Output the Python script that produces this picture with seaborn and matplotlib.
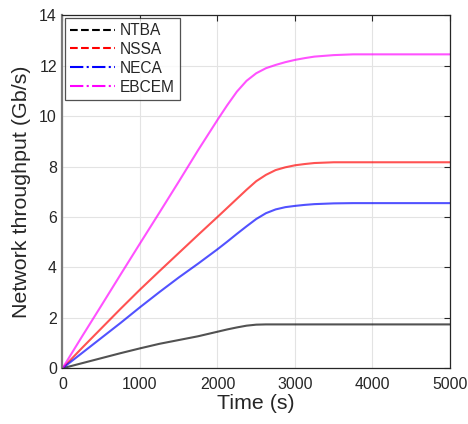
import seaborn as sns
import matplotlib.pyplot as plt
import pandas as pd
import numpy as np
from matplotlib.lines import Line2D

sns.set_style("white")
plt.rcParams['font.family'] = ['Liberation Sans', 'DejaVu Sans']

# values
time_s = [0, 250, 500, 750, 1000, 1250, 1500, 1750, 2000, 2125, 2250, 2375,
          2500, 2625, 2750, 2875, 3000, 3125, 3250, 3500, 3750, 4000, 4500, 5000]
ntba = [0, 0.20, 0.40, 0.60, 0.79, 0.97, 1.12, 1.27, 1.45, 1.54, 1.62, 1.69,
        1.73, 1.74, 1.74, 1.74, 1.74, 1.74, 1.74, 1.74, 1.74, 1.74, 1.74, 1.74]
nssa = [0, 0.80, 1.58, 2.36, 3.12, 3.85, 4.57, 5.29, 6.00, 6.36, 6.72, 7.08,
        7.42, 7.67, 7.86, 7.97, 8.05, 8.10, 8.14, 8.17, 8.17, 8.17, 8.17, 8.17]
neca = [0, 0.60, 1.20, 1.80, 2.42, 3.02, 3.60, 4.15, 4.72, 5.02, 5.33, 5.63,
        5.92, 6.15, 6.30, 6.39, 6.44, 6.48, 6.51, 6.54, 6.55, 6.55, 6.55, 6.55]
ebcem = [0, 1.25, 2.48, 3.72, 4.95, 6.17, 7.40, 8.65, 9.85, 10.43, 10.97, 11.40,
         11.70, 11.90, 12.03, 12.14, 12.23, 12.30, 12.36, 12.42, 12.45, 12.45,
         12.45, 12.45]

names = ['NTBA', 'NSSA', 'NECA', 'EBCEM']
colors = ['#000000', '#ff0000', '#0000ff', '#ff00ff']
styles = ['--', '--', '-.', '-.']

df = pd.DataFrame({'t': time_s * 4,
                   'v': ntba + nssa + neca + ebcem,
                   'method': np.repeat(names, len(time_s))})

fig, ax = plt.subplots(figsize=(4.68, 4.24), dpi=100)
fig.subplots_adjust(left=0.1335, right=0.9615, top=0.964, bottom=0.1314)

sns.lineplot(data=df, x='t', y='v', hue='method', hue_order=names,
             palette=colors, alpha=0.68, linewidth=1.5, legend=False, ax=ax)

ax.set_xlim(0, 5000)
ax.set_ylim(0, 14)
ax.set_xticks(range(0, 5001, 1000))
ax.set_yticks(range(0, 15, 2))
ax.grid(True, color='#e3e3e3', linewidth=0.8)
ax.set_axisbelow(True)
ax.tick_params(direction='in', length=4, width=0.8, colors='#262626',
               labelsize=11.4, top=True, right=True)
ax.tick_params(axis='x', pad=6)
ax.tick_params(axis='y', pad=4)
for side in ['top', 'right', 'bottom']:
    ax.spines[side].set_color('#262626')
    ax.spines[side].set_linewidth(0.9)
ax.spines['left'].set_color('#7a7a7a')
ax.spines['left'].set_linewidth(1.6)

ax.set_xlabel('Time (s)', fontsize=15.4, color='#262626', labelpad=2)
ax.set_ylabel('Network throughput (Gb/s)', fontsize=15.4, color='#262626', labelpad=6)

handles = [Line2D([], [], color=c, linestyle=s, linewidth=1.5)
           for c, s in zip(colors, styles)]
leg = ax.legend(handles, names, loc='upper left', fontsize=11.2,
                frameon=True, fancybox=False, borderaxespad=0.15,
                handlelength=2.9, handletextpad=0.3, labelspacing=0.25,
                borderpad=0.35)
leg.get_frame().set_edgecolor('#262626')
leg.get_frame().set_linewidth(0.9)

plt.savefig('out.png', dpi=100)
